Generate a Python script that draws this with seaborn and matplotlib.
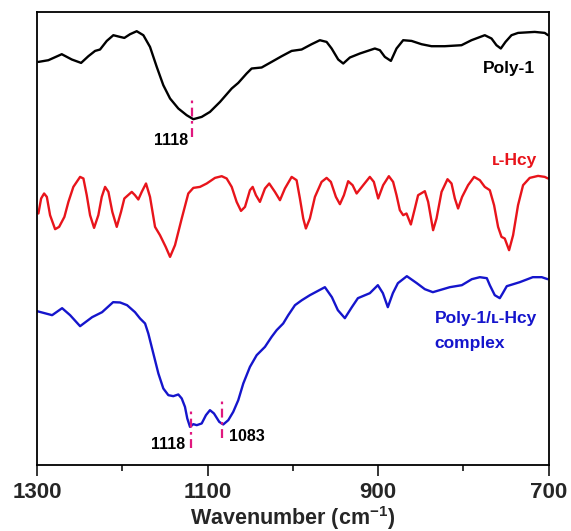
import numpy as np
import pandas as pd
import matplotlib
matplotlib.use("Agg")
import matplotlib.pyplot as plt
import seaborn as sns

sns.set_style("ticks")
plt.rcParams['font.family'] = ['Liberation Sans', 'DejaVu Sans']
plt.rcParams['font.weight'] = 'bold'
plt.rcParams['mathtext.fontset'] = 'custom'
plt.rcParams['mathtext.rm'] = 'Liberation Sans:bold'
plt.rcParams['mathtext.bf'] = 'Liberation Sans:bold'

# ---- data (wavenumber in cm-1, relative transmittance incl. vertical offsets) ----
poly1_wn = [1298.5, 1286.8, 1271.1, 1259.3, 1248.4, 1239.9, 1232, 1226.2, 1218.3, 1210.6,
            1202.7, 1197.7, 1191, 1183.2, 1175.4, 1167.6, 1159.7, 1152, 1144.1, 1134.4,
            1124.6, 1116.8, 1107, 1097.3, 1085.5, 1071.8, 1064.1, 1054.3, 1048.4, 1036.7,
            1025, 1013.2, 1001.5, 989.8, 978.1, 968.4, 960.5, 954.6, 946.9, 941, 933.2,
            921.5, 903.9, 898, 892.2, 885.1, 878.5, 870.7, 860.9, 849.2, 837.5, 821.9,
            802.3, 790.6, 775, 767.1, 761.3, 756.2, 750.7, 743.7, 736, 716.4, 704.7, 700.8]
poly1_t = [403.3, 405, 411, 405.7, 402.3, 409, 414.3, 415.7, 424.3, 430,
           428.3, 427.3, 431, 434, 430, 418.3, 398.3, 380, 366.7, 356.7,
           350, 346, 348.3, 353.3, 363.3, 376.7, 382.3, 391.7, 396.7, 397.7,
           403.3, 409, 414.3, 415.7, 421, 425, 423.3, 416.7, 405.7, 401.7, 407.7,
           411.7, 416.7, 415, 408.3, 404.3, 416.7, 425, 424.3, 421, 419, 419,
           420, 425, 430, 426.7, 420, 416.7, 423.3, 430, 432.3, 433.3, 432.3, 430]

lhcy_wn = [1298.5, 1295.3, 1291.8, 1288.6, 1284.8, 1278.9, 1274.2, 1268, 1263.3, 1257.5,
           1249.6, 1245.7, 1241.8, 1237.9, 1233.2, 1228.2, 1224.2, 1220.3, 1216.4, 1211.8,
           1206.6, 1201.6, 1197.7, 1189, 1185.2, 1181.3, 1177.3, 1172.3, 1167.6, 1161.7,
           1155.9, 1149.2, 1144.1, 1138.3, 1130.4, 1122.7, 1116.8, 1109, 1101.1, 1091.4,
           1083.5, 1077.7, 1071.8, 1066, 1060.9, 1056.2, 1050.4, 1047.2, 1043.4, 1038.7,
           1032.8, 1027.8, 1021.1, 1015.2, 1009.4, 1001.5, 995.7, 991.8, 987.9, 984.8,
           980.1, 974.2, 966.4, 960.5, 955.5, 949.6, 944.9, 940.2, 935.2, 930, 925.3,
           917.6, 909.8, 905.1, 900, 894.2, 887.5, 882.5, 878.5, 874.6, 870.7, 866.8,
           861.7, 857, 853.2, 845.3, 841.4, 835.6, 831.6, 825.7, 818.7, 814, 810.1, 806.3,
           801.6, 794.6, 787.5, 780.8, 775, 769.1, 764.1, 759.4, 755.4, 751.6, 746.5,
           741.8, 736, 730.1, 722.3, 712.5, 704.7, 700.8]
lhcy_t = [251.7, 266.7, 271.7, 268.3, 250, 236, 238.3, 248.3, 263.3, 278.3,
          288.3, 286.7, 270, 250, 237.3, 250, 268.3, 278.3, 273.3, 253.3,
          238.3, 253.3, 266.7, 273.3, 270, 265.7, 273.3, 281.7, 268.3, 238.3,
          230, 218.3, 208.3, 220, 246.7, 271.7, 277.3, 278.3, 281.7, 287.3,
          289, 286.7, 278.3, 263.3, 254.3, 258.3, 275, 278.3, 270, 263.3,
          276.7, 281.7, 273.3, 265, 276.7, 288.3, 285, 266.7, 246.7, 236.7,
          246.7, 268.3, 283.3, 287.3, 283.3, 268.3, 261, 270, 284, 280, 271.7,
          280, 288.3, 283.3, 266.7, 280, 289, 283.3, 270, 255, 250, 251.7,
          240.7, 256.7, 270, 274, 263.3, 235, 246.7, 273.3, 286, 281.7, 266.7, 256.7,
          268.3, 280, 288.3, 285, 278.3, 275, 260, 238.3, 228.3, 226.7, 215,
          230, 260, 280, 287.3, 289.3, 288.3, 286.7]

cplx_wn = [1300, 1282.4, 1270.7, 1261.3, 1249.6, 1235.5, 1223.8, 1210.9, 1202.7, 1194.5,
           1185.2, 1179.3, 1173.4, 1169.6, 1163.7, 1157.8, 1152, 1146.1, 1140.3, 1134.4,
           1130.4, 1126.6, 1123.9, 1120.7, 1116.8, 1112.8, 1107, 1102, 1097.3, 1092.6,
           1086.4, 1081.7, 1075.8, 1070, 1064.1, 1058.2, 1050.4, 1042.5, 1032.8, 1025,
           1019.1, 1011.4, 1005.5, 997.6, 989.5, 980.1, 962.5, 954.3, 947.3, 939.1,
           930.9, 923.8, 909.8, 900.4, 894.5, 888.7, 882.8, 876.9, 866.4, 854.7, 845.3,
           835.9, 816, 801.9, 790.2, 780.8, 772.6, 769.1, 763.3, 757.4, 753.9, 749.2,
           734, 718.7, 708.2, 701.2]
cplx_t = [154, 150, 157, 150, 139, 148, 153, 163, 162.7, 160,
          153, 146.7, 141.7, 131.7, 111.7, 91.7, 76.7, 70, 69, 70.7,
          66.7, 58.3, 46.7, 38.3, 41, 40, 41.7, 50, 55, 51.7,
          43.3, 40.7, 45, 53.3, 65, 81.7, 98.3, 110, 118.3, 128.3,
          135, 141.7, 150, 160, 165, 170, 178, 168, 155, 147,
          158, 167, 172, 180, 172, 158, 172, 182, 189, 182, 176,
          173, 178, 180, 186, 188, 187, 180, 170, 167, 172, 179,
          183, 188, 188, 186]

peak_marks = [(1118, 328, 365), (1119, 17, 55), (1083, 27, 66)]
series_names = ["Poly-1", "ʟ-Hcy", "Poly-1/ʟ-Hcy"]
series_colors = ["#000000", "#E8141B", "#1515CC"]

frames = []
for name, wn, t in zip(series_names, [poly1_wn, lhcy_wn, cplx_wn], [poly1_t, lhcy_t, cplx_t]):
    frames.append(pd.DataFrame({"wn": wn, "t": t, "s": name}))
df = pd.concat(frames, ignore_index=True)

fig = plt.figure(figsize=(5.71, 5.31), dpi=100)
ax = fig.add_axes([0.065, 0.124, 0.896, 0.853])

sns.lineplot(data=df, x="wn", y="t", hue="s", palette=dict(zip(series_names, series_colors)),
             estimator=None, sort=True, linewidth=1.7, legend=False, ax=ax)
for ln in ax.get_lines():
    ln.set_solid_joinstyle("round")
    ln.set_solid_capstyle("round")

mag = "#E0187E"
for x, y0, y1 in peak_marks:
    ax.vlines(x, y0, y1, colors=mag, linewidth=1.6, linestyles=(0, (4, 2, 1.2, 2)))

ax.text(1123, 325, "1118", ha="right", va="center", fontsize=11.5, fontweight="bold", color="black")
ax.text(1127, 21, "1118", ha="right", va="center", fontsize=11.5, fontweight="bold", color="black")
ax.text(1075, 29, "1083", ha="left", va="center", fontsize=11.5, fontweight="bold", color="black")

ax.text(716, 397, "Poly-1", ha="right", va="center", fontsize=12.5, fontweight="bold", color=series_colors[0])
ax.text(714, 305, "ʟ-Hcy", ha="right", va="center", fontsize=12.5, fontweight="bold", color=series_colors[1])
ax.text(834, 147, "Poly-1/ʟ-Hcy", ha="left", va="center", fontsize=12.5, fontweight="bold", color=series_colors[2])
ax.text(834, 122, "complex", ha="left", va="center", fontsize=12.5, fontweight="bold", color=series_colors[2])

ax.set_xlim(1300, 700)
ax.set_ylim(0, 453)
ax.set_xticks([1300, 1100, 900, 700])
ax.set_xticks([1200, 1000, 800], minor=True)
ax.set_yticks([])
ax.tick_params(axis="x", which="major", direction="out", length=8, width=1.3, labelsize=16, pad=4)
ax.tick_params(axis="x", which="minor", direction="out", length=4, width=1.3)
for lab in ax.get_xticklabels():
    lab.set_fontweight("bold")
for sp in ax.spines.values():
    sp.set_linewidth(1.3)
    sp.set_color("black")
ax.set_xlabel("Wavenumber (cm$^{-1}$)", fontsize=15.5, fontweight="bold", labelpad=1)
ax.set_ylabel("")

fig.savefig("out.png", dpi=100)
